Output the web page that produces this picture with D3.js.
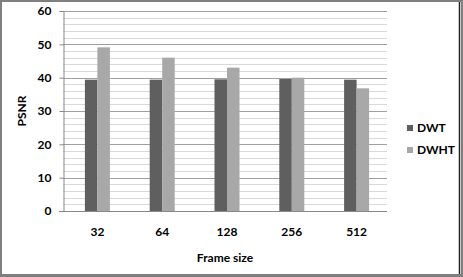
<!DOCTYPE html>
<html>
<head>
<meta charset="utf-8">
<script src="https://cdn.jsdelivr.net/npm/d3@7"></script>
<style>
  body { margin: 0; background: #fff; }
  svg text { font-family: Lato, "Open Sans", sans-serif; font-weight: 700; fill: #000; }
</style>
</head>
<body>
<div id="chart"></div>
<script>
// chart data
const frameSizes = ['32', '64', '128', '256', '512'];
const seriesNames = ['DWT', 'DWHT'];
const dwtValues = [39.4, 39.4, 39.5, 39.6, 39.4];
const dwhtValues = [49.1, 46.0, 43.0, 40.0, 36.8];
const yTicks = [0, 10, 20, 30, 40, 50, 60];
const seriesColors = ['#5f5f5f', '#a8a8a8'];

const width = 463, height = 277;
const plot = { left: 63, right: 387, top: 11, bottom: 211 };

const svg = d3.select('#chart').append('svg')
  .attr('width', width)
  .attr('height', height);

// outer frame
svg.append('rect')
  .attr('x', 1).attr('y', 1)
  .attr('width', width - 2).attr('height', height - 2)
  .attr('fill', '#fff')
  .attr('stroke', '#7f7f7f')
  .attr('stroke-width', 2);
svg.append('rect')
  .attr('x', 0).attr('y', height - 3)
  .attr('width', width).attr('height', 3)
  .attr('fill', '#7f7f7f');
svg.append('line')
  .attr('x1', 459.5).attr('x2', 459.5)
  .attr('y1', 2).attr('y2', height - 3)
  .attr('stroke', '#222').attr('stroke-width', 1.5);

const y = d3.scaleLinear().domain([0, 60]).range([plot.bottom, plot.top]);
const x = d3.scaleBand().domain(frameSizes).range([plot.left + 2, plot.right + 2]);
const xs = d3.scaleBand().domain(seriesNames).range([0, 25]);

// minor gridlines every 2
const minor = d3.range(2, 60, 2).filter(v => v % 10 !== 0);
svg.append('g').selectAll('line')
  .data(minor)
  .join('line')
  .attr('x1', plot.left).attr('x2', plot.right)
  .attr('y1', d => Math.round(y(d)) + 0.5)
  .attr('y2', d => Math.round(y(d)) + 0.5)
  .attr('stroke', '#d9d9d9');

// major gridlines
svg.append('g').selectAll('line')
  .data(yTicks.filter(v => v > 0))
  .join('line')
  .attr('x1', plot.left).attr('x2', plot.right)
  .attr('y1', d => Math.round(y(d)) + 0.5)
  .attr('y2', d => Math.round(y(d)) + 0.5)
  .attr('stroke', '#a0a0a0');

// bars
const series = [dwtValues, dwhtValues];
series.forEach((vals, si) => {
  svg.append('g').selectAll('rect')
    .data(vals)
    .join('rect')
    .attr('x', (d, i) => x(frameSizes[i]) + x.bandwidth() / 2 - 12.5 + xs(seriesNames[si]))
    .attr('y', d => y(d))
    .attr('width', xs.bandwidth())
    .attr('height', d => plot.bottom - y(d))
    .attr('fill', seriesColors[si]);
});

// y axis
const yAxis = svg.append('g')
  .attr('transform', `translate(${plot.left + 0.5},0)`)
  .call(d3.axisLeft(y).tickValues(yTicks).tickSize(4).tickPadding(8));
yAxis.select('.domain').attr('stroke', '#888');
yAxis.selectAll('.tick line').attr('stroke', '#888');
yAxis.selectAll('.tick text').style('font-size', '12px');

// x axis baseline
svg.append('line')
  .attr('x1', plot.left - 4).attr('x2', plot.right)
  .attr('y1', plot.bottom + 0.5).attr('y2', plot.bottom + 0.5)
  .attr('stroke', '#888');

// x labels
svg.append('g').selectAll('text')
  .data(frameSizes)
  .join('text')
  .attr('x', d => x(d) + x.bandwidth() / 2)
  .attr('y', 236)
  .attr('text-anchor', 'middle')
  .style('font-size', '12px')
  .text(d => d);

// axis titles
svg.append('text')
  .attr('x', 225).attr('y', 262)
  .attr('text-anchor', 'middle')
  .style('font-size', '12px')
  .text('Frame size');
svg.append('text')
  .attr('transform', 'translate(26,111) rotate(-90)')
  .attr('text-anchor', 'middle')
  .style('font-size', '12px')
  .text('PSNR');

// legend
const legend = svg.append('g').attr('transform', 'translate(407,125)');
seriesNames.forEach((name, i) => {
  const item = legend.append('g').attr('transform', `translate(0, ${i * 22})`);
  item.append('rect')
    .attr('width', 6).attr('height', 6)
    .attr('fill', seriesColors[i]);
  item.append('text')
    .attr('x', 10).attr('y', 7)
    .style('font-size', '12px')
    .text(name);
});
</script>
</body>
</html>
